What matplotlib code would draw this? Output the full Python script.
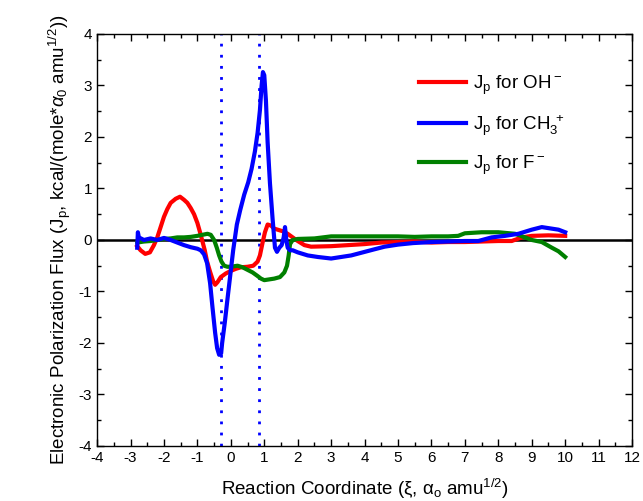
import matplotlib
matplotlib.use("Agg")
import matplotlib.pyplot as plt
from matplotlib.ticker import MultipleLocator

plt.rcParams['font.family'] = ['Liberation Sans', 'DejaVu Sans']
plt.rcParams['mathtext.fontset'] = 'custom'
plt.rcParams['mathtext.rm'] = 'Liberation Sans'
plt.rcParams['mathtext.it'] = 'Liberation Sans:italic'
plt.rcParams['axes.unicode_minus'] = False

# Red: Jp for OH-
oh_x = [-2.8, -2.7, -2.56, -2.42, -2.3, -2.2, -2.1, -2.0, -1.9, -1.8, -1.65, -1.52, -1.4, -1.3,
        -1.2, -1.1, -1.0, -0.93, -0.86, -0.78, -0.71, -0.62, -0.53, -0.47, -0.4, -0.3, -0.15,
        0.0, 0.15, 0.3, 0.5, 0.67, 0.8, 0.87, 0.95, 1.02, 1.1, 1.2, 1.3, 1.4, 1.55, 1.7, 1.85,
        2.0, 2.2, 2.4, 3.0, 3.5, 4.0, 4.5, 5.0, 5.5, 6.0, 6.5, 7.0, 7.5, 8.0, 8.4, 8.7, 9.0,
        9.5, 10.0]
oh_y = [-0.12, -0.2, -0.27, -0.24, -0.1, 0.05, 0.25, 0.45, 0.6, 0.72, 0.8, 0.84, 0.78, 0.72,
        0.62, 0.5, 0.33, 0.17, 0.0, -0.2, -0.42, -0.62, -0.8, -0.87, -0.82, -0.72, -0.65,
        -0.6, -0.56, -0.53, -0.52, -0.5, -0.42, -0.3, -0.05, 0.15, 0.3, 0.28, 0.22, 0.2, 0.17,
        0.12, 0.05, -0.02, -0.1, -0.13, -0.12, -0.1, -0.08, -0.05, -0.04, -0.03, -0.05, -0.04,
        -0.04, -0.03, -0.02, -0.02, 0.05, 0.08, 0.09, 0.08]

# Blue: Jp for CH3+
ch3_x = [-2.8, -2.78, -2.75, -2.6, -2.4, -2.2, -2.0, -1.8, -1.6, -1.4, -1.2, -1.0, -0.9, -0.8,
         -0.71, -0.62, -0.55, -0.47, -0.41, -0.35, -0.29, -0.26, -0.18, -0.11, -0.02, 0.07,
         0.18, 0.28, 0.4, 0.52, 0.62, 0.72, 0.8, 0.87, 0.92, 0.96, 1.0, 1.05, 1.1, 1.17, 1.25,
         1.32, 1.38, 1.45, 1.52, 1.58, 1.62, 1.66, 1.7, 1.77, 1.85, 2.0, 2.3, 2.6, 3.0, 3.3,
         3.6, 3.95, 4.3, 4.6, 5.0, 5.45, 6.0, 6.5, 7.0, 7.4, 7.8, 8.2, 8.6, 9.0, 9.3, 9.6, 9.8,
         10.0]
ch3_y = [-0.15, 0.15, 0.05, 0.0, 0.03, 0.0, 0.04, 0.0, -0.05, -0.1, -0.14, -0.17, -0.2, -0.28,
         -0.45, -0.84, -1.3, -1.8, -2.1, -2.23, -2.2, -2.0, -1.6, -1.2, -0.7, -0.2,
         0.3, 0.58, 0.88, 1.12, 1.38, 1.72, 2.08, 2.52, 3.0, 3.26, 3.2, 2.7, 1.9, 1.1, 0.4,
         -0.15, -0.23, -0.15, -0.1, 0.05, 0.25, 0.0, -0.15, -0.2, -0.2, -0.24, -0.3, -0.33,
         -0.36, -0.33, -0.3, -0.24, -0.18, -0.13, -0.09, -0.06, -0.04, -0.03, -0.02, -0.02,
         0.05, 0.08, 0.12, 0.2, 0.25, 0.22, 0.2, 0.15]

# Green: Jp for F-
f_x = [-2.8, -2.6, -2.4, -2.2, -2.0, -1.8, -1.6, -1.4, -1.2, -1.0, -0.85, -0.7, -0.6, -0.5,
       -0.42, -0.35, -0.28, -0.2, -0.1, 0.0, 0.2, 0.35, 0.5, 0.65, 0.8, 0.9, 1.0, 1.1, 1.3,
       1.47, 1.6, 1.68, 1.73, 1.77, 1.85, 2.0, 2.5, 3.0, 3.5, 4.0, 4.5, 5.0, 5.5, 6.0, 6.5,
       6.8, 7.0, 7.5, 8.0, 8.5, 8.8, 9.0, 9.3, 9.6, 9.8, 10.0]
f_y = [-0.05, -0.03, -0.02, 0.0, 0.02, 0.03, 0.05, 0.05, 0.06, 0.08, 0.1, 0.12, 0.1, 0.0,
       -0.15, -0.3, -0.42, -0.5, -0.52, -0.52, -0.5, -0.53, -0.58, -0.63, -0.7, -0.75, -0.78,
       -0.77, -0.75, -0.72, -0.63, -0.5, -0.3, -0.08, 0.0, 0.02, 0.03, 0.07, 0.07, 0.07,
       0.07, 0.07, 0.06, 0.07, 0.07, 0.08, 0.13, 0.15, 0.15, 0.12, 0.05, 0.0, -0.04, -0.15,
       -0.22, -0.33]

ts_lines = [-0.3, 0.85]
labels = [r'J$_{\rm p}$ for OH$^{\rm -}$', r'J$_{\rm p}$ for CH$_3^{\ +}$', r'J$_{\rm p}$ for F$^{\rm -}$']

fig = plt.figure(figsize=(6.43, 5.01), dpi=100)
ax = fig.add_axes([0.151, 0.1098, 0.832, 0.8224])

ax.axhline(0, color='black', lw=1.8, zorder=1)
for xv in ts_lines:
    ax.axvline(xv, color='#0000ff', lw=2.0, ls=(0, (1, 3.0)), zorder=1)

ax.plot(oh_x, oh_y, color='#ff0000', lw=3.0, label=labels[0], zorder=3)
ax.plot(ch3_x, ch3_y, color='#0000ff', lw=3.0, label=labels[1], zorder=4)
ax.plot(f_x, f_y, color='#008000', lw=3.0, label=labels[2], zorder=3)

ax.set_xlim(-4, 12)
ax.set_ylim(-4, 4)
ax.xaxis.set_major_locator(MultipleLocator(1))
ax.xaxis.set_minor_locator(MultipleLocator(0.5))
ax.yaxis.set_major_locator(MultipleLocator(1))
ax.yaxis.set_minor_locator(MultipleLocator(0.5))
ax.tick_params(which='both', direction='in', top=True, right=True, labelsize=11, width=1)
ax.tick_params(which='major', length=5)
ax.tick_params(which='minor', length=3)
for s in ax.spines.values():
    s.set_linewidth(1.0)

ax.set_xlabel('Reaction Coordinate (ξ, α$_{\\rm o}$ amu$^{1/2}$)', fontsize=13.5, labelpad=9)
ax.set_ylabel(r'Electronic Polarization Flux (J$_{\rm p}$, kcal/(mole*$\alpha_0$ amu$^{1/2}$))',
              fontsize=13.5, labelpad=4)

leg = ax.legend(loc='upper left', bbox_to_anchor=(0.57, 0.945), frameon=False, fontsize=13.5,
                handlelength=2.5, labelspacing=0.85, handletextpad=0.4)

fig.savefig('out.png', dpi=100)
